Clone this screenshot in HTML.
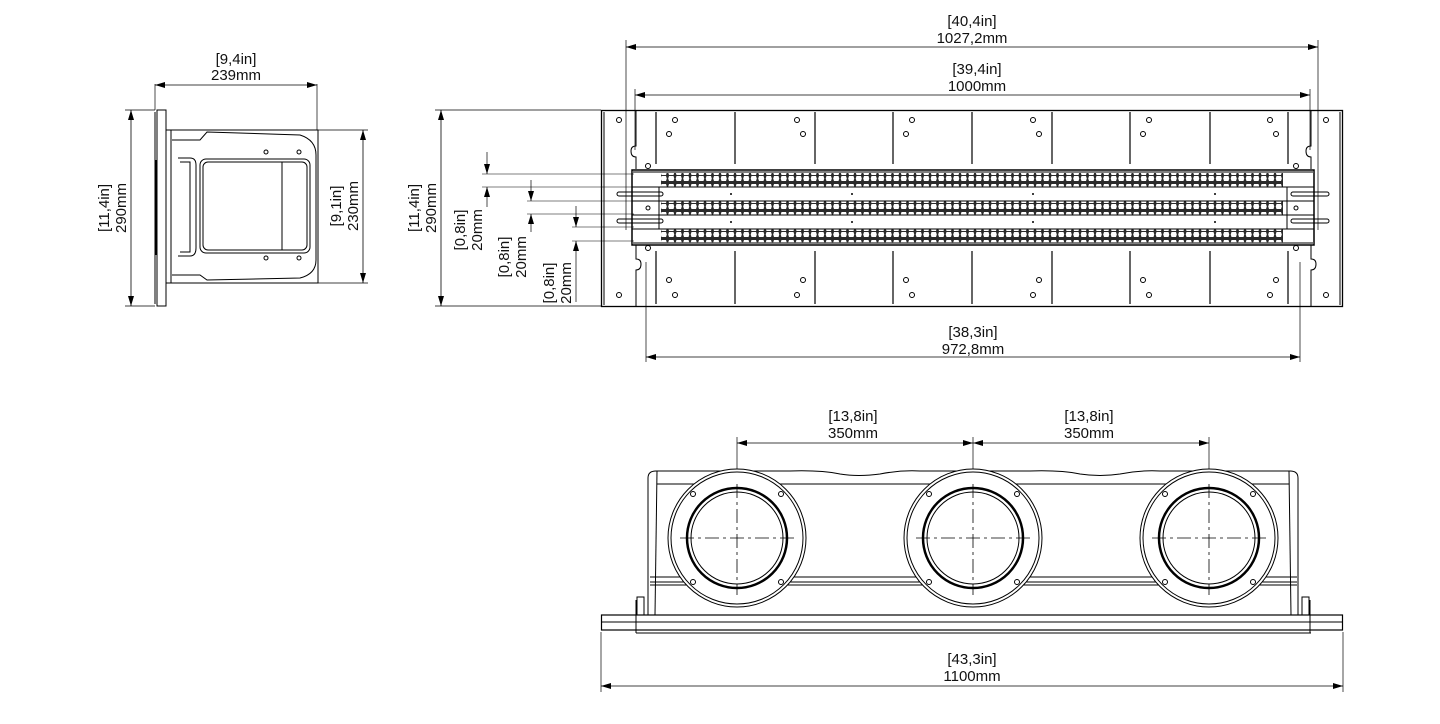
<!DOCTYPE html>
<html><head><meta charset="utf-8"><style>
html,body{margin:0;padding:0;background:#fff;}
svg{display:block;}
text{font-family:"Liberation Sans",sans-serif;font-size:15px;fill:#111;}
</style></head><body>
<svg width="1440" height="724" viewBox="0 0 1440 724" xmlns="http://www.w3.org/2000/svg">
<defs>
<marker id="a" markerWidth="10" markerHeight="6" refX="10" refY="3" orient="auto-start-reverse" markerUnits="userSpaceOnUse"><path d="M0,0 L10,3 L0,6z" fill="#000"/></marker>
<pattern id="hex" width="7.5" height="14" patternUnits="userSpaceOnUse">
<rect width="7.5" height="14" fill="#2a2a2a"/>
<path d="M1.5,2 L6,2 L6.8,4.5 L6,7 L1.5,7 L0.7,4.5z" fill="#fff"/>
<path d="M1.5,8 L6,8 L6.8,10.5 L6,13 L1.5,13 L0.7,10.5z" fill="#fff"/>
</pattern>
</defs>
<g stroke="#000" fill="none" stroke-width="1">

<!-- ===== SIDE VIEW ===== -->
<line x1="155" y1="84" x2="155" y2="110" stroke-width="0.7"/>
<line x1="317" y1="84" x2="317" y2="130" stroke-width="0.7"/>
<line x1="155" y1="85" x2="317" y2="85" marker-start="url(#a)" marker-end="url(#a)" stroke-width="0.8"/>
<line x1="125" y1="110" x2="155" y2="110" stroke-width="0.7"/>
<line x1="125" y1="306" x2="155" y2="306" stroke-width="0.7"/>
<line x1="131" y1="110" x2="131" y2="306" marker-start="url(#a)" marker-end="url(#a)" stroke-width="0.8"/>
<line x1="317" y1="130" x2="368" y2="130" stroke-width="0.7"/>
<line x1="317" y1="283" x2="368" y2="283" stroke-width="0.7"/>
<line x1="363" y1="130" x2="363" y2="283" marker-start="url(#a)" marker-end="url(#a)" stroke-width="0.8"/>
<rect x="157" y="110" width="9" height="196"/>
<line x1="155" y1="112" x2="155" y2="304"/>
<line x1="156" y1="160" x2="156" y2="255" stroke-width="2"/>
<rect x="171" y="130" width="147" height="153"/>
<line x1="166" y1="130" x2="171" y2="130"/>
<line x1="166" y1="283" x2="171" y2="283"/>
<path d="M172,140 L200,140 L207,132 L300,135 Q316,140 316,155 L316,260 Q316,274 300,278 L207,280 L200,275 L172,275"/>
<path d="M178,158 L190,158 Q196,158 196,165 L196,248 Q196,256 190,256 L178,256"/>
<path d="M180,162 L190,162 L190,252 L180,252"/>
<rect x="200" y="159" width="110" height="94" rx="6"/>
<rect x="203" y="162" width="104" height="88" rx="5"/>
<line x1="282" y1="162" x2="282" y2="250"/>
<circle cx="266" cy="152" r="2"/><circle cx="299" cy="152" r="2"/>
<circle cx="266" cy="258" r="2"/><circle cx="299" cy="258" r="2"/>

<!-- ===== PLAN VIEW ===== -->
<line x1="626" y1="40" x2="626" y2="230" stroke-width="0.7"/>
<line x1="1318" y1="40" x2="1318" y2="230" stroke-width="0.7"/>
<line x1="626" y1="47" x2="1318" y2="47" marker-start="url(#a)" marker-end="url(#a)" stroke-width="0.8"/>
<line x1="635" y1="89" x2="635" y2="150" stroke-width="0.7"/>
<line x1="1310" y1="89" x2="1310" y2="150" stroke-width="0.7"/>
<line x1="635" y1="95" x2="1310" y2="95" marker-start="url(#a)" marker-end="url(#a)" stroke-width="0.8"/>
<line x1="646" y1="262" x2="646" y2="362" stroke-width="0.7"/>
<line x1="1300" y1="262" x2="1300" y2="362" stroke-width="0.7"/>
<line x1="646" y1="357" x2="1300" y2="357" marker-start="url(#a)" marker-end="url(#a)" stroke-width="0.8"/>
<line x1="435" y1="110" x2="601" y2="110" stroke-width="0.7"/>
<line x1="435" y1="306" x2="601" y2="306" stroke-width="0.7"/>
<line x1="441" y1="110" x2="441" y2="306" marker-start="url(#a)" marker-end="url(#a)" stroke-width="0.8"/>
<!-- small dims -->
<line x1="482" y1="174" x2="634" y2="174" stroke-width="0.6"/>
<line x1="482" y1="187" x2="634" y2="187" stroke-width="0.6"/>
<line x1="487" y1="152" x2="487" y2="174" marker-end="url(#a)" stroke-width="0.7"/>
<line x1="487" y1="187" x2="487" y2="207" marker-start="url(#a)" stroke-width="0.7"/>
<line x1="527" y1="201" x2="634" y2="201" stroke-width="0.6"/>
<line x1="527" y1="214" x2="634" y2="214" stroke-width="0.6"/>
<line x1="531" y1="180" x2="531" y2="201" marker-end="url(#a)" stroke-width="0.7"/>
<line x1="531" y1="214" x2="531" y2="232" marker-start="url(#a)" stroke-width="0.7"/>
<line x1="572" y1="227" x2="634" y2="227" stroke-width="0.6"/>
<line x1="572" y1="241" x2="634" y2="241" stroke-width="0.6"/>
<line x1="576" y1="206" x2="576" y2="227" marker-end="url(#a)" stroke-width="0.7"/>
<line x1="576" y1="241" x2="576" y2="302" marker-start="url(#a)" stroke-width="0.7"/>

<rect x="601.5" y="110.5" width="741" height="196" stroke-width="1.3"/>
<line x1="604" y1="112" x2="604" y2="305"/>
<line x1="1340" y1="112" x2="1340" y2="305"/>
<path d="M636,110 L636,146 Q631,146 631,151 Q631,157 636,157 L636,169"/>
<path d="M636,245 L636,259 Q641,259 641,264 Q641,270 636,270 L636,306"/>
<path d="M1311,110 L1311,146 Q1306,146 1306,151 Q1306,157 1311,157 L1311,169"/>
<path d="M1311,245 L1311,259 Q1316,259 1316,264 Q1316,270 1311,270 L1311,306"/>
<g stroke-width="1.2">
<line x1="656" y1="112" x2="656" y2="164"/><line x1="656" y1="251" x2="656" y2="304"/>
<line x1="735" y1="112" x2="735" y2="164"/><line x1="735" y1="251" x2="735" y2="304"/>
<line x1="815" y1="112" x2="815" y2="164"/><line x1="815" y1="251" x2="815" y2="304"/>
<line x1="893" y1="112" x2="893" y2="164"/><line x1="893" y1="251" x2="893" y2="304"/>
<line x1="972" y1="112" x2="972" y2="164"/><line x1="972" y1="251" x2="972" y2="304"/>
<line x1="1052" y1="112" x2="1052" y2="164"/><line x1="1052" y1="251" x2="1052" y2="304"/>
<line x1="1130" y1="112" x2="1130" y2="164"/><line x1="1130" y1="251" x2="1130" y2="304"/>
<line x1="1210" y1="112" x2="1210" y2="164"/><line x1="1210" y1="251" x2="1210" y2="304"/>
<line x1="1288" y1="112" x2="1288" y2="164"/><line x1="1288" y1="251" x2="1288" y2="304"/>
</g>
<rect x="632" y="170" width="682" height="75" stroke-width="1.5"/>
<rect x="661" y="173" width="622" height="14" fill="url(#hex)" stroke="none"/>
<rect x="661" y="201" width="622" height="14" fill="url(#hex)" stroke="none"/>
<rect x="661" y="229" width="622" height="14" fill="url(#hex)" stroke="none"/>
<line x1="632" y1="187" x2="1314" y2="187"/>
<line x1="632" y1="201" x2="1314" y2="201"/>
<line x1="632" y1="215" x2="1314" y2="215"/>
<line x1="632" y1="229" x2="1314" y2="229"/>
<line x1="632" y1="172" x2="1314" y2="172" stroke-width="1.5" stroke="#555"/>
<line x1="632" y1="243" x2="1314" y2="243" stroke-width="1.5" stroke="#555"/>
<line x1="659" y1="187" x2="659" y2="229"/>
<line x1="1287" y1="187" x2="1287" y2="229"/>
<rect x="617" y="192" width="46" height="4" rx="2"/>
<rect x="617" y="219" width="46" height="4" rx="2"/>
<rect x="1291" y="192" width="38" height="4" rx="2"/>
<rect x="1291" y="219" width="38" height="4" rx="2"/>
<circle cx="648" cy="208" r="2"/><circle cx="1296" cy="208" r="2"/>
<g fill="#000" stroke="none">
<circle cx="731" cy="194" r="1"/><circle cx="731" cy="222" r="1"/>
<circle cx="852" cy="194" r="1"/><circle cx="852" cy="222" r="1"/>
<circle cx="1033" cy="194" r="1"/><circle cx="1033" cy="222" r="1"/>
<circle cx="1215" cy="194" r="1"/><circle cx="1215" cy="222" r="1"/>
</g>
<g stroke-width="1">
<circle cx="619" cy="120" r="2.5"/><circle cx="619" cy="295" r="2.5"/>
<circle cx="1326" cy="120" r="2.5"/><circle cx="1326" cy="295" r="2.5"/>
<circle cx="648" cy="166" r="2.5"/><circle cx="648" cy="248" r="2.5"/>
<circle cx="1296" cy="166" r="2.5"/><circle cx="1296" cy="248" r="2.5"/>
<circle cx="675" cy="120" r="2.5"/><circle cx="669" cy="134" r="2.5"/><circle cx="669" cy="280" r="2.5"/><circle cx="675" cy="295" r="2.5"/>
<circle cx="797" cy="120" r="2.5"/><circle cx="803" cy="134" r="2.5"/><circle cx="803" cy="280" r="2.5"/><circle cx="797" cy="295" r="2.5"/>
<circle cx="912" cy="120" r="2.5"/><circle cx="906" cy="134" r="2.5"/><circle cx="906" cy="280" r="2.5"/><circle cx="912" cy="295" r="2.5"/>
<circle cx="1033" cy="120" r="2.5"/><circle cx="1039" cy="134" r="2.5"/><circle cx="1039" cy="280" r="2.5"/><circle cx="1033" cy="295" r="2.5"/>
<circle cx="1149" cy="120" r="2.5"/><circle cx="1143" cy="134" r="2.5"/><circle cx="1143" cy="280" r="2.5"/><circle cx="1149" cy="295" r="2.5"/>
<circle cx="1270" cy="120" r="2.5"/><circle cx="1276" cy="134" r="2.5"/><circle cx="1276" cy="280" r="2.5"/><circle cx="1270" cy="295" r="2.5"/>
</g>

<!-- ===== FRONT VIEW ===== -->
<line x1="737" y1="437" x2="737" y2="600" stroke-width="0.7"/>
<line x1="973" y1="437" x2="973" y2="600" stroke-width="0.7"/>
<line x1="1209" y1="437" x2="1209" y2="600" stroke-width="0.7"/>
<line x1="737" y1="443" x2="973" y2="443" marker-start="url(#a)" marker-end="url(#a)" stroke-width="0.8"/>
<line x1="973" y1="443" x2="1209" y2="443" marker-start="url(#a)" marker-end="url(#a)" stroke-width="0.8"/>
<line x1="601" y1="632" x2="601" y2="692" stroke-width="0.7"/>
<line x1="1343" y1="632" x2="1343" y2="692" stroke-width="0.7"/>
<line x1="601" y1="686" x2="1343" y2="686" marker-start="url(#a)" marker-end="url(#a)" stroke-width="0.8"/>

<path d="M648,615 L648,478 Q648,471 656,471 L790,471 Q820,470 840,474 Q858,477 880,474 Q900,470 920,471 L1030,471 Q1060,470 1080,474 Q1100,477 1120,474 Q1140,470 1160,471 L1290,471 Q1298,471 1298,478 L1298,615"/>
<line x1="657" y1="471" x2="655" y2="615"/>
<line x1="1289" y1="471" x2="1291" y2="615"/>
<line x1="657" y1="484" x2="1289" y2="484"/>
<line x1="650" y1="577" x2="1297" y2="577"/>
<line x1="650" y1="582" x2="1297" y2="582"/>
<line x1="650" y1="585" x2="1297" y2="585"/>
<rect x="601.5" y="615" width="741" height="15" stroke-width="1.2"/>
<line x1="601" y1="622" x2="1343" y2="622"/>
<line x1="636" y1="633" x2="1311" y2="633"/>
<line x1="636" y1="600" x2="636" y2="633"/>
<line x1="1310" y1="600" x2="1310" y2="633"/>
<rect x="637" y="597" width="7" height="18"/>
<rect x="1302" y="597" width="7" height="18"/>

<g>
<circle cx="737" cy="538" r="69" fill="#fff"/>
<circle cx="737" cy="538" r="66"/>
<circle cx="737" cy="538" r="50" stroke-width="2.5"/>
<circle cx="737" cy="538" r="46"/>
<circle cx="693" cy="494" r="2.5"/><circle cx="781" cy="494" r="2.5"/>
<circle cx="693" cy="582" r="2.5"/><circle cx="781" cy="582" r="2.5"/>
<line x1="680" y1="538" x2="794" y2="538" stroke-dasharray="14,4,3,4" stroke-width="0.8"/>
</g>
<g>
<circle cx="973" cy="538" r="69" fill="#fff"/>
<circle cx="973" cy="538" r="66"/>
<circle cx="973" cy="538" r="50" stroke-width="2.5"/>
<circle cx="973" cy="538" r="46"/>
<circle cx="929" cy="494" r="2.5"/><circle cx="1017" cy="494" r="2.5"/>
<circle cx="929" cy="582" r="2.5"/><circle cx="1017" cy="582" r="2.5"/>
<line x1="916" y1="538" x2="1030" y2="538" stroke-dasharray="14,4,3,4" stroke-width="0.8"/>
</g>
<g>
<circle cx="1209" cy="538" r="69" fill="#fff"/>
<circle cx="1209" cy="538" r="66"/>
<circle cx="1209" cy="538" r="50" stroke-width="2.5"/>
<circle cx="1209" cy="538" r="46"/>
<circle cx="1165" cy="494" r="2.5"/><circle cx="1253" cy="494" r="2.5"/>
<circle cx="1165" cy="582" r="2.5"/><circle cx="1253" cy="582" r="2.5"/>
<line x1="1152" y1="538" x2="1266" y2="538" stroke-dasharray="14,4,3,4" stroke-width="0.8"/>
</g>
<line x1="737" y1="484" x2="737" y2="595" stroke-dasharray="14,4,3,4" stroke-width="0.8"/>
<line x1="973" y1="484" x2="973" y2="595" stroke-dasharray="14,4,3,4" stroke-width="0.8"/>
<line x1="1209" y1="484" x2="1209" y2="595" stroke-dasharray="14,4,3,4" stroke-width="0.8"/>
</g>

<g text-anchor="middle">
<text x="236" y="64">[9,4in]</text><text x="236" y="80">239mm</text>
<text x="972" y="26">[40,4in]</text><text x="972" y="43">1027,2mm</text>
<text x="977" y="74">[39,4in]</text><text x="977" y="91">1000mm</text>
<text x="973" y="337">[38,3in]</text><text x="973" y="354">972,8mm</text>
<text x="853" y="421">[13,8in]</text><text x="853" y="438">350mm</text>
<text x="1089" y="421">[13,8in]</text><text x="1089" y="438">350mm</text>
<text x="972" y="664">[43,3in]</text><text x="972" y="681">1100mm</text>
<text transform="translate(109,208) rotate(-90)">[11,4in]</text>
<text transform="translate(126,208) rotate(-90)">290mm</text>
<text transform="translate(341,206) rotate(-90)">[9,1in]</text>
<text transform="translate(358,206) rotate(-90)">230mm</text>
<text transform="translate(419,208) rotate(-90)">[11,4in]</text>
<text transform="translate(436,208) rotate(-90)">290mm</text>
<text transform="translate(465,230) rotate(-90)">[0,8in]</text>
<text transform="translate(482,230) rotate(-90)">20mm</text>
<text transform="translate(509,257) rotate(-90)">[0,8in]</text>
<text transform="translate(526,257) rotate(-90)">20mm</text>
<text transform="translate(554,283) rotate(-90)">[0,8in]</text>
<text transform="translate(571,283) rotate(-90)">20mm</text>
</g>
</svg>
</body></html>
